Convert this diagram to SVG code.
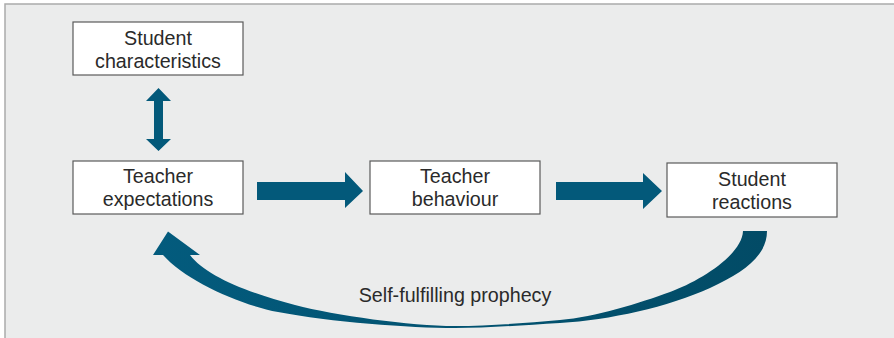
<svg xmlns="http://www.w3.org/2000/svg" width="894" height="338" viewBox="0 0 894 338">
  <defs>
    <style>
      .box { fill: #ffffff; stroke: #5a5a5a; stroke-width: 1.2; }
      .lbl { font-family: "Liberation Sans", Arial, sans-serif; font-size: 19.7px; fill: #2a2a2a; text-anchor: middle; }
      .arrow { fill: #03597A; }
    </style>
    <linearGradient id="curveGrad" x1="153" y1="0" x2="767" y2="0" gradientUnits="userSpaceOnUse">
      <stop offset="0" stop-color="#035B7D"/>
      <stop offset="1" stop-color="#024B66"/>
    </linearGradient>
  </defs>
  <rect x="0" y="0" width="894" height="338" fill="#ffffff"/>
  <rect x="5" y="4" width="900" height="400" fill="#EBECEC" stroke="#ababab" stroke-width="1.5"/>

  <g id="connectors">
    <path id="arrow-char-exp" class="arrow" d="M158.5,88 L171,101 L163,101 L163,139 L171,139 L158.5,151 L146,139 L154,139 L154,101 L146,101 Z"/>
    <path id="arrow-exp-beh" class="arrow" d="M257,182 L345,182 L345,172 L363,191 L345,208 L345,200 L257,200 Z"/>
    <path id="arrow-beh-rea" class="arrow" d="M556,182 L643,182 L643,173 L662,191 L643,209 L643,200 L556,200 Z"/>
    <path id="arrow-prophecy" fill="url(#curveGrad)" d="M767,231 C767,255 745,272 710,288 C668,307 610,320 560,323 C520,325.5 485,328 455,328 C410,328 330,322 278,312 C238,304.3 185,280 163,255 L153,255 L168,231.5 L200,255 L190,255 C205,275 245,292 295,305 C335,315.4 410,326 455,326 C490,326 525,323 560,320 C595,317 640,303 670,292 C700,281 742,255 743,231 Z"/>
    <text class="lbl" x="455" y="302">Self-fulfilling prophecy</text>
  </g>

  <g id="node-student-characteristics">
    <rect class="box" x="73" y="22" width="170" height="53"/>
    <text class="lbl" x="158" y="45">Student</text>
    <text class="lbl" x="158" y="68">characteristics</text>
  </g>
  <g id="node-teacher-expectations">
    <rect class="box" x="73" y="161" width="170" height="53"/>
    <text class="lbl" x="158" y="183">Teacher</text>
    <text class="lbl" x="158" y="206">expectations</text>
  </g>
  <g id="node-teacher-behaviour">
    <rect class="box" x="370" y="161" width="170" height="53"/>
    <text class="lbl" x="455" y="183">Teacher</text>
    <text class="lbl" x="455" y="206">behaviour</text>
  </g>
  <g id="node-student-reactions">
    <rect class="box" x="667" y="163" width="170" height="54"/>
    <text class="lbl" x="752" y="186">Student</text>
    <text class="lbl" x="752" y="209">reactions</text>
  </g>
</svg>
